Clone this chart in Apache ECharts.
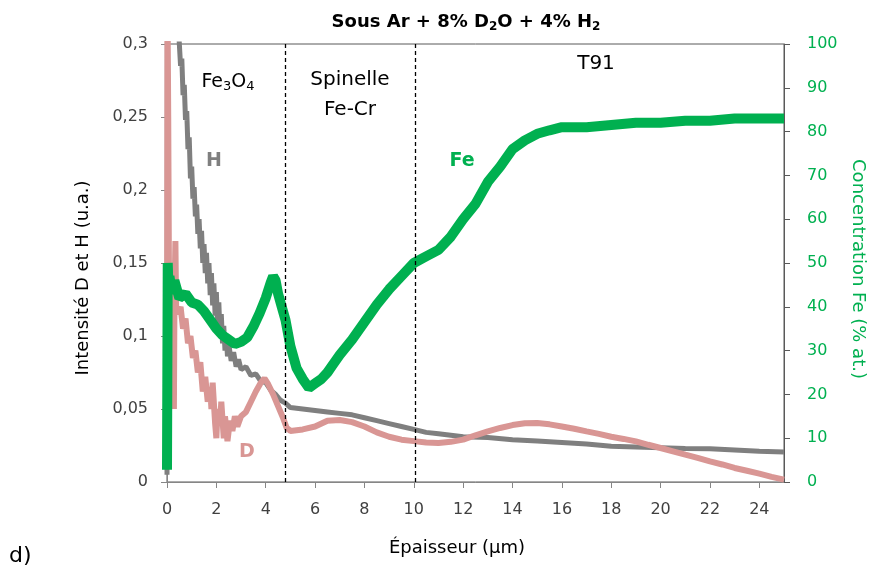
<!DOCTYPE html>
<html><head><meta charset="utf-8">
<script src="https://cdn.jsdelivr.net/npm/echarts@6/dist/echarts.min.js"></script>
<style>html,body{margin:0;padding:0;background:#fff}#c{width:871px;height:577px}</style>
</head><body><div id="c"></div>
<script>
// x (µm) positions of phase boundaries
var boundaries = [4.8, 10.06];
var xTicks = [0,2,4,6,8,10,12,14,16,18,20,22,24];
var leftTicks = ['0','0,05','0,1','0,15','0,2','0,25','0,3'];

// H intensity (u.a.) vs thickness
var seriesH = [
[0,0.005],[0.015,0.34],[0.47,0.31],
[0.5,0.30],[0.55,0.285],[0.6,0.29],[0.65,0.265],[0.7,0.272],[0.75,0.248],[0.8,0.254],[0.85,0.228],[0.9,0.236],[0.95,0.208],[1.0,0.216],[1.05,0.194],[1.1,0.202],[1.15,0.182],[1.2,0.19],[1.25,0.17],[1.3,0.18],[1.35,0.16],[1.4,0.172],[1.45,0.15],[1.5,0.163],[1.55,0.143],[1.6,0.157],[1.65,0.136],[1.7,0.15],[1.75,0.128],[1.8,0.143],[1.85,0.121],[1.9,0.136],[1.95,0.114],[2.0,0.13],[2.05,0.107],[2.1,0.123],[2.15,0.1],[2.2,0.115],[2.25,0.095],[2.3,0.107],[2.35,0.09],[2.4,0.101],[2.45,0.086],[2.5,0.095],[2.6,0.083],[2.7,0.089],[2.8,0.079],[2.9,0.084],[3.0,0.077],[3.2,0.079],[3.4,0.073],[3.6,0.074],[3.8,0.069],[4.0,0.068],[4.2,0.063],[4.4,0.06],[4.6,0.056],[4.8,0.054],[5.0,0.051],[5.5,0.05],[6,0.049],[6.5,0.048],[7,0.047],[7.5,0.046],[8,0.044],[8.5,0.042],[9,0.04],[9.5,0.038],[10,0.036],[10.5,0.034],[11,0.033],[11.5,0.032],[12,0.031],[13,0.0305],[14,0.029],[15,0.028],[16,0.027],[17,0.026],[18,0.0245],[19,0.024],[20,0.0235],[21,0.023],[22,0.0228],[23,0.022],[24,0.021],[25,0.0205]
];

// D intensity (u.a.) vs thickness
var seriesD = [
[0,0.02],[0.02,0.33],[0.05,0.25],[0.08,0.14],[0.12,0.125],[0.16,0.1],[0.2,0.13],[0.25,0.12],[0.28,0.05],[0.3,0.12],[0.34,0.165],[0.37,0.12],[0.45,0.115],[0.55,0.12],[0.65,0.105],[0.75,0.112],[0.85,0.095],[0.95,0.1],[1.05,0.085],[1.15,0.09],[1.25,0.075],[1.35,0.082],[1.45,0.062],[1.55,0.072],[1.65,0.055],[1.75,0.065],[1.8,0.05],[1.85,0.068],[1.95,0.04],[2.0,0.03],[2.05,0.05],[2.15,0.04],[2.2,0.055],[2.3,0.03],[2.35,0.045],[2.45,0.028],[2.55,0.042],[2.65,0.035],[2.75,0.045],[2.85,0.038],[3.0,0.045],[3.2,0.048],[3.4,0.055],[3.6,0.062],[3.8,0.068],[3.95,0.071],[4.1,0.067],[4.3,0.06],[4.5,0.052],[4.7,0.044],[4.85,0.037],[5.0,0.035],[5.5,0.036],[6,0.038],[6.5,0.042],[7,0.0425],[7.5,0.041],[8,0.038],[8.5,0.034],[9,0.031],[9.5,0.029],[10,0.028],[10.5,0.027],[11,0.0267],[11.5,0.0275],[12,0.029],[12.5,0.032],[13,0.0347],[13.5,0.037],[14,0.039],[14.5,0.0403],[15,0.0404],[15.5,0.0395],[16,0.038],[16.5,0.0365],[17,0.0347],[17.5,0.033],[18,0.031],[18.5,0.0295],[19,0.0278],[19.5,0.0255],[20,0.0233],[20.5,0.021],[21,0.0187],[21.5,0.0165],[22,0.0141],[22.5,0.012],[23,0.0096],[23.5,0.0077],[24,0.0057],[24.5,0.0035],[25,0.0016]
];

// Fe concentration (% at.) vs thickness
var seriesFe = [
[0,2.8],[0.03,50],[0.06,44],[0.1,47],[0.2,43],[0.3,46],[0.5,42],[0.75,43],[1,41],[1.25,40.5],[1.5,39],[1.75,37],[2,35],[2.25,33.5],[2.5,32.5],[2.75,31.5],[3,32],[3.25,33],[3.5,35.5],[3.75,38.5],[4,42],[4.2,45.5],[4.3,47],[4.4,46],[4.5,43],[4.65,40],[4.8,37],[5,31],[5.25,26],[5.5,23.5],[5.75,21.5],[6,22.5],[6.25,23.5],[6.5,25],[6.75,27],[7,29],[7.5,32.5],[8,36.5],[8.5,40.5],[9,44],[9.5,47],[10,50],[10.5,51.5],[11,53],[11.5,56],[12,60],[12.5,63.5],[13,68.5],[13.5,72],[14,76],[14.5,78],[15,79.5],[15.5,80.3],[16,81],[17,81],[18,81.5],[19,82],[20,82],[21,82.5],[22,82.5],[23,83],[24,83],[25,83]
];

var FONT = 'DejaVu Sans';
var TXT = '#404040';
var GREEN = '#00b050';
var GRAY = '#7f7f7f';
var PINK = '#d99694';

var chart = echarts.init(document.getElementById('c'));
chart.setOption({
  animation: false,
  backgroundColor: '#fff',
  textStyle: {fontFamily: FONT},
  grid: {left: 167, right: 87, top: 44, bottom: 95, show: true, borderColor: '#595959', borderWidth: 1},
  xAxis: {
    type: 'value', min: 0, max: 25, interval: 2,
    axisLine: {lineStyle: {color: '#868686', width: 1}},
    axisTick: {show: true, length: 6, lineStyle: {color: '#868686'}},
    splitLine: {show: false},
    axisLabel: {fontFamily: FONT, fontSize: 16, color: TXT, margin: 20, showMaxLabel: false,
      formatter: function(v){ return xTicks.indexOf(v) >= 0 ? String(v) : ''; }}
  },
  yAxis: [{
    type: 'value', min: 0, max: 0.3, interval: 0.05, position: 'left',
    axisLine: {show: true, lineStyle: {color: '#868686'}},
    axisTick: {show: true, length: 6, lineStyle: {color: '#868686'}},
    splitLine: {show: false},
    axisLabel: {fontFamily: FONT, fontSize: 16, color: TXT, margin: 19,
      formatter: function(v){ return leftTicks[Math.round(v/0.05)]; }}
  },{
    type: 'value', min: 0, max: 100, interval: 10, position: 'right',
    axisLine: {show: true, lineStyle: {color: '#595959'}},
    axisTick: {show: true, length: 6, lineStyle: {color: '#595959'}},
    splitLine: {show: false},
    axisLabel: {fontFamily: FONT, fontSize: 16, color: GREEN, margin: 23}
  }],
  series: [
    {type: 'line', name: 'H', yAxisIndex: 0, data: seriesH, showSymbol: false, symbol: 'none',
     lineStyle: {color: GRAY, width: 5}, clip: true, z: 2,
     markLine: {silent: true, symbol: 'none', label: {show: false},
       lineStyle: {color: '#000', type: [4, 3], width: 1.3},
       data: boundaries.map(function(b){ return {xAxis: b}; })}},
    {type: 'line', name: 'D', yAxisIndex: 0, data: seriesD, showSymbol: false, symbol: 'none',
     lineStyle: {color: PINK, width: 6}, clip: true, z: 3},
    {type: 'line', name: 'Fe', yAxisIndex: 1, data: seriesFe, showSymbol: false, symbol: 'none',
     lineStyle: {color: GREEN, width: 10}, clip: true, z: 4}
  ],
  graphic: [
    {type: 'text', x: 466, y: 22, style: {
      text: '{n|Sous Ar + 8% D}{s|2}{n|O + 4% H}{s|2}', textAlign: 'center', textVerticalAlign: 'middle',
      rich: {n: {fontFamily: FONT, fontSize: 18, fontWeight: 'bold', color: '#000'},
             s: {fontFamily: FONT, fontSize: 12, fontWeight: 'bold', color: '#000', padding: [10,0,0,0]}}}},
    {type: 'text', x: 83, y: 278, rotation: Math.PI/2, style: {text: 'Intensité D et H (u.a.)', font: '18px "DejaVu Sans"', fill: '#000', textAlign: 'center', textVerticalAlign: 'middle'}},
    {type: 'text', x: 858, y: 269, rotation: -Math.PI/2, style: {text: 'Concentration Fe (% at.)', font: '18px "DejaVu Sans"', fill: GREEN, textAlign: 'center', textVerticalAlign: 'middle'}},
    {type: 'text', x: 457, y: 548, style: {text: 'Épaisseur (µm)', font: '18px "DejaVu Sans"', fill: '#000', textAlign: 'center', textVerticalAlign: 'middle'}},
    {type: 'text', x: 9, y: 556, style: {text: 'd)', font: '22px "DejaVu Sans"', fill: '#000', textAlign: 'left', textVerticalAlign: 'middle'}},
    {type: 'text', x: 228, y: 82, style: {text: '{n|Fe}{s|3}{n|O}{s|4}', textAlign: 'center', textVerticalAlign: 'middle',
      rich: {n: {fontFamily: FONT, fontSize: 19, color: '#000'}, s: {fontFamily: FONT, fontSize: 13, color: '#000', padding: [10,0,0,0]}}}},
    {type: 'text', x: 350, y: 80, style: {text: 'Spinelle', font: '20px "DejaVu Sans"', fill: '#000', textAlign: 'center', textVerticalAlign: 'middle'}},
    {type: 'text', x: 350, y: 110, style: {text: 'Fe-Cr', font: '20px "DejaVu Sans"', fill: '#000', textAlign: 'center', textVerticalAlign: 'middle'}},
    {type: 'text', x: 596, y: 64, style: {text: 'T91', font: '20px "DejaVu Sans"', fill: '#000', textAlign: 'center', textVerticalAlign: 'middle'}},
    {type: 'text', x: 214, y: 161, style: {text: 'H', font: 'bold 19px "DejaVu Sans"', fill: GRAY, textAlign: 'center', textVerticalAlign: 'middle'}},
    {type: 'text', x: 247, y: 452, style: {text: 'D', font: 'bold 19px "DejaVu Sans"', fill: PINK, textAlign: 'center', textVerticalAlign: 'middle'}},
    {type: 'text', x: 462, y: 161, style: {text: 'Fe', font: 'bold 19px "DejaVu Sans"', fill: GREEN, textAlign: 'center', textVerticalAlign: 'middle'}}
  ]
});
</script></body></html>
